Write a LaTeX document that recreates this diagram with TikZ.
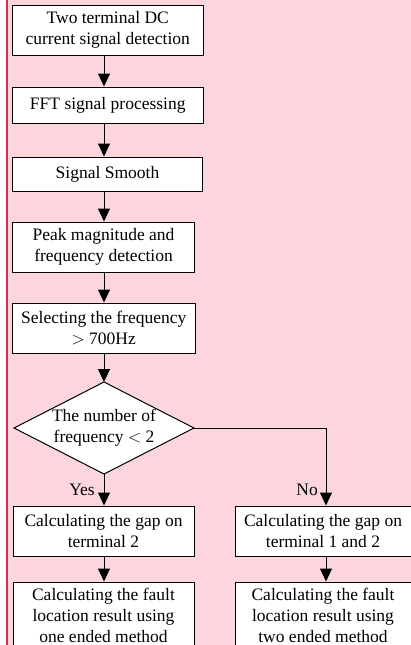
\documentclass[tikz,border=0pt]{standalone}
\usepackage{fontspec}
\setmainfont{Liberation Serif}
\usetikzlibrary{arrows.meta,shapes.geometric}
\definecolor{bgpink}{RGB}{252,213,221}
\definecolor{edgered}{RGB}{215,45,85}
\tikzset{
  box/.style={draw=black,line width=1pt,fill=white,inner sep=0pt,align=center,
    font=\fontsize{17.5}{21}\selectfont},
  arr/.style={line width=1pt,-{Triangle[length=13pt,width=12pt]}},
  lbl/.style={font=\fontsize{17.5}{21}\selectfont,inner sep=0pt}
}
\begin{document}
\begin{tikzpicture}[x=1pt,y=-1pt]
\clip (0,0) rectangle (411,645);
\fill[white] (0,0) rectangle (411,645);
\fill[bgpink] (7,0) rectangle (411,645);
\draw[edgered,line width=1.2pt] (7,0) -- (7,645);
\node[box,minimum width=190.5pt,minimum height=50pt] (b1) at (107.75,30) {Two terminal DC\\current signal detection};
\node[box,minimum width=190.5pt,minimum height=36pt] (b2) at (107.75,105) {FFT signal processing};
\node[box,minimum width=189.5pt,minimum height=34pt] (b3) at (107.5,174) {Signal Smooth};
\node[box,minimum width=182pt,minimum height=50pt] (b4) at (103.5,247) {Peak magnitude and\\frequency detection};
\node[box,minimum width=182.5pt,minimum height=50pt] (b5) at (103.75,328) {Selecting the frequency\\$>$ 700Hz};
\draw[line width=1pt,fill=white] (104,382) coordinate (dn) -- (194,428) coordinate (de) -- (104,474) coordinate (ds) -- (14,428) -- cycle;
\node[lbl,align=center] (d) at (104,428) {The number of\\frequency $<$ 2};
\node[box,minimum width=181pt,minimum height=50pt] (b6) at (103.5,531) {Calculating the gap on\\terminal 2};
\node[box,minimum width=176pt,minimum height=50pt] (b7) at (323,531) {Calculating the gap on\\terminal 1 and 2};
\node[box,minimum width=181pt,minimum height=66pt] (b8) at (103.5,615) {Calculating the fault\\location result using\\one ended method};
\node[box,minimum width=176pt,minimum height=66pt] (b9) at (323,615) {Calculating the fault\\location result using\\two ended method};
\draw[arr] (b1.south -| dn) -- (b2.north -| dn);
\draw[arr] (b2.south -| dn) -- (b3.north -| dn);
\draw[arr] (b3.south -| dn) -- (b4.north -| dn);
\draw[arr] (b4.south -| dn) -- (b5.north -| dn);
\draw[arr] (b5.south -| dn) -- (dn);
\draw[arr] (ds) -- (b6.north -| ds);
\draw[arr] (de) -| ([xshift=3pt]b7.north);
\draw[arr] (b6.south -| ds) -- (b8.north -| ds);
\draw[arr] ([xshift=3pt]b7.south) -- ([xshift=3pt]b9.north);
\node[lbl,anchor=east] (yes) at (95,490) {Yes};
\node[lbl,anchor=east] (no) at (318,490) {No};
\end{tikzpicture}
\end{document}
